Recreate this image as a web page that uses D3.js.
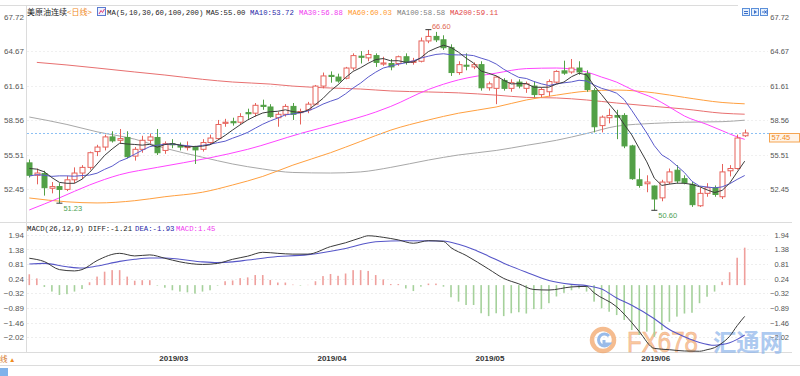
<!DOCTYPE html>
<html>
<head>
<meta charset="utf-8">
<script src="https://cdn.jsdelivr.net/npm/d3@7/dist/d3.min.js"></script>
<style>
  body { margin: 0; background: #fff; }
  svg text { font-family: "Liberation Sans", Arial, sans-serif; }
  .mono { font-family: "Liberation Mono", "DejaVu Sans Mono", monospace; font-size: 7.3px; }
  .cjk { font-family: "Noto Sans CJK SC", sans-serif; }
</style>
</head>
<body>
<div id="container"></div>
<script>
/* CONSTANTS AND GLOBALS */
const width = 800, height = 376;

/* DATA */
// trading days shown (MM/DD, 2019)
const days = ["02/05","02/06","02/07","02/08","02/11","02/12","02/13","02/14","02/15","02/19","02/20","02/21","02/22","02/25","02/26","02/27","02/28",
  "03/01","03/04","03/05","03/06","03/07","03/08","03/11","03/12","03/13","03/14","03/15","03/18","03/19","03/20","03/21","03/22","03/25","03/26","03/27","03/28","03/29",
  "04/01","04/02","04/03","04/04","04/05","04/08","04/09","04/10","04/11","04/12","04/15","04/16","04/17","04/18","04/22","04/23","04/24","04/25","04/26","04/29","04/30",
  "05/01","05/02","05/03","05/06","05/07","05/08","05/09","05/10","05/13","05/14","05/15","05/16","05/17","05/20","05/21","05/22","05/23","05/24","05/28","05/29","05/30","05/31",
  "06/03","06/04","06/05","06/06","06/07","06/10","06/11","06/12","06/13","06/14","06/17","06/18","06/19","06/20","06/21"];

const open = [54.8,53.7,53.85,52.55,52.7,52.45,53.3,53.9,54.4,55.8,56.2,57.1,56.8,57.05,55.4,56.0,56.8,
  57.05,55.9,56.5,56.35,56.15,56.2,56.0,56.6,56.95,58.3,58.45,58.4,59.25,59.2,59.9,59.75,58.8,59.1,59.8,59.25,59.5,
  60.0,61.6,62.55,62.4,62.3,63.2,64.25,64.1,64.3,63.55,63.6,63.6,64.2,63.7,63.8,65.6,66.0,65.7,65.0,62.8,63.45,
  63.3,63.5,61.45,61.4,62.1,61.4,61.95,61.4,61.6,60.85,61.1,61.95,62.95,62.85,63.2,62.7,61.2,58.1,58.8,59.0,59.0,56.3,
  53.3,52.95,52.75,51.7,53.1,54.15,53.4,52.9,51.0,52.1,52.6,51.8,54.1,54.3,57.2];
const high = [55.1,54.3,54.1,53.1,53.0,53.65,54.4,54.6,55.8,56.4,57.3,57.6,57.8,57.6,56.2,57.2,57.4,
  57.8,56.7,56.9,56.6,56.7,56.3,56.9,57.3,58.6,58.7,58.8,59.2,59.6,60.1,60.4,60.0,59.3,60.0,60.1,59.6,60.2,
  61.7,62.8,62.9,62.7,63.3,64.5,64.7,64.8,64.5,64.2,64.0,64.3,64.5,64.1,65.9,66.6,66.4,66.1,65.3,63.8,64.5,
  63.7,63.8,62.0,62.5,62.3,62.2,62.2,62.0,62.0,61.5,62.2,63.0,63.85,64.0,63.8,63.0,61.4,59.0,59.6,59.5,59.2,56.4,
  54.3,53.7,52.8,53.3,54.3,54.6,53.7,53.1,52.6,53.0,52.8,54.7,54.6,57.3,57.75];
const low = [53.5,52.9,51.9,52.1,51.23,52.3,53.0,53.4,54.2,55.4,55.9,56.6,56.5,55.2,55.0,55.7,56.5,
  55.5,55.6,56.1,55.9,55.9,54.7,55.8,56.4,56.9,58.0,58.1,58.2,58.7,58.9,59.5,58.8,58.0,58.9,58.6,58.2,59.2,
  59.9,61.4,61.9,61.9,62.2,63.0,63.6,63.8,63.3,63.4,63.0,63.4,63.5,63.5,63.7,65.4,65.5,64.8,62.5,62.6,63.0,
  63.1,61.2,61.2,60.0,61.2,61.1,61.4,61.0,60.6,60.6,60.7,61.8,62.6,62.7,62.6,61.1,57.5,57.5,58.3,56.9,56.1,53.3,
  52.6,52.2,50.6,51.4,52.9,53.0,52.9,50.9,50.9,51.8,51.8,51.6,53.6,54.2,57.1];
const close = [53.7,53.9,52.6,52.7,52.45,53.3,53.9,54.4,55.7,56.2,57.1,56.75,56.95,55.35,56.0,56.8,57.1,
  55.7,56.5,56.4,56.2,56.25,55.95,56.6,57.0,58.2,58.4,58.35,58.9,59.15,59.9,59.8,58.9,59.1,59.8,59.1,59.35,60.0,
  61.6,62.5,62.45,62.05,63.2,64.3,64.15,64.4,63.7,63.65,63.3,64.2,63.7,63.8,65.6,66.0,65.7,65.0,62.8,63.5,63.4,
  63.5,61.45,61.8,62.4,61.4,61.9,61.6,61.8,60.85,61.3,62.0,62.9,62.75,63.2,62.85,61.3,58.0,58.85,59.0,58.85,56.3,53.4,
  52.8,53.1,51.6,53.1,54.0,53.2,53.05,51.1,52.1,52.6,52.0,54.0,54.3,57.0,57.45];
// closes of the nine sessions before the first candle (for MA5 / MA10)
const priorCloses = [52.62,53.13,53.69,51.99,53.31,54.23,53.79,55.26,54.56];

// long moving averages: [candle index, value]
const ma30Pts = [[0,50.63],[4,51.7],[8,52.84],[12,53.75],[17,54.4],[24,55.25],[29,56.0],[36,57.4],[41,58.3],[46,59.3],[48,59.8],
  [53,61.3],[57,62.15],[62,62.75],[66,63.15],[70,63.2],[74,62.85],[76,62.4],[78,61.95],[80,61.3],[83,60.5],[85,59.75],[87,58.95],[90,58.2],[92,57.65],[94,57.1],[95,56.88]];
const ma60Pts = [[0,51.69],[5,51.35],[9,51.25],[14,51.45],[18,51.8],[23,52.2],[27,52.84],[31,53.6],[35,54.6],[40,55.7],[44,56.7],[48,57.7],
  [53,58.6],[57,59.2],[62,59.75],[66,60.37],[70,60.8],[74,61.15],[78,61.25],[83,61.0],[87,60.6],[92,60.15],[95,60.03]];
const ma100Pts = [[0,58.86],[5,58.2],[9,57.55],[14,56.9],[18,56.1],[23,55.3],[27,54.7],[31,54.26],[35,53.95],[40,53.9],[44,54.0],[48,54.4],
  [53,55.05],[57,55.5],[62,55.9],[66,56.35],[70,56.8],[74,57.4],[78,58.05],[83,58.3],[87,58.4],[92,58.45],[95,58.58]];
const ma200Pts = [[1,63.7],[5,63.47],[9,63.2],[14,62.85],[18,62.58],[23,62.2],[27,61.96],[32,61.78],[35,61.6],[40,61.43],[44,61.34],[48,61.17],
  [53,61.08],[57,61.0],[62,60.8],[66,60.6],[70,60.55],[74,60.37],[78,60.1],[83,59.8],[87,59.57],[92,59.2],[95,59.11]];

// MACD histogram, one bar per candle
const macdBars = [0.42,0.26,-0.07,-0.25,-0.38,-0.35,-0.25,-0.15,0.11,0.33,0.52,0.58,0.58,0.33,0.17,0.19,0.19,
  -0.02,-0.10,-0.20,-0.25,-0.28,-0.33,-0.25,-0.20,-0.02,0.15,0.18,0.27,0.30,0.39,0.39,0.20,0.10,0.10,0.02,-0.02,0.01,
  0.15,0.35,0.43,0.36,0.45,0.58,0.58,0.55,0.39,0.22,0.04,0.04,-0.13,-0.23,-0.06,0.06,0.06,-0.06,-0.47,-0.64,-0.77,
  -0.77,-1.09,-1.2,-1.09,-1.2,-1.09,-1.05,-1.1,-0.93,-0.93,-0.7,-0.44,-0.3,-0.2,-0.13,-0.25,-0.64,-0.9,-1.03,-1.16,-1.35,-1.74,
  -1.93,-1.8,-2.0,-1.74,-1.42,-1.22,-1.1,-1.07,-0.7,-0.45,-0.25,0.13,0.5,1.06,1.45];
const diffPts = [[0,1.04],[2,0.91],[4,0.6],[6,0.55],[7,0.6],[9,0.95],[12,1.23],[14,1.13],[16,1.17],[18,1.04],[20,0.9],[23,0.8],[25,0.84],
  [27,1.0],[29,1.12],[31,1.27],[33,1.23],[35,1.2],[37,1.2],[40,1.49],[42,1.64],[44,1.83],[45,1.91],[47,1.85],[49,1.75],[51,1.62],[53,1.72],
  [55,1.69],[56,1.45],[58,1.15],[61,0.62],[63,0.26],[65,0.05],[67,-0.17],[69,-0.19],[72,-0.07],[74,-0.05],[75,-0.3],[78,-0.84],[80,-1.45],
  [81,-1.8],[83,-2.45],[85,-2.5],[87,-2.55],[89,-2.56],[90,-2.5],[91,-2.42],[92,-2.24],[93,-1.98],[94,-1.57],[95,-1.21]];
const deaPts = [[0,0.82],[2,0.84],[5,0.71],[7,0.66],[9,0.74],[12,0.92],[14,1.0],[16,1.05],[18,1.05],[20,1.0],[23,0.9],[25,0.87],[27,0.9],
  [29,0.97],[32,1.08],[37,1.18],[42,1.42],[46,1.68],[50,1.72],[55,1.71],[57,1.58],[59,1.38],[61,1.12],[63,0.85],[66,0.5],[69,0.18],[72,0.03],
  [74,-0.02],[76,-0.15],[78,-0.5],[80,-0.78],[83,-1.3],[85,-1.72],[87,-2.0],[89,-2.22],[91,-2.33],[92,-2.3],[93,-2.23],[94,-2.1],[95,-1.93]];

const priceTicks = [67.72, 64.67, 61.61, 58.56, 55.51, 52.45];
const macdTicks = [1.94, 1.38, 0.81, 0.24, -0.32, -0.89, -1.46, -2.02];
const lastPrice = 57.45;
const maLegend = [
  {text: "MA5:55.00", x: 206, color: "#222"},
  {text: "MA10:53.72", x: 250, color: "#2a2aa8"},
  {text: "MA30:56.88", x: 299, color: "#f03cf0"},
  {text: "MA60:60.03", x: 348, color: "#ff9a2e"},
  {text: "MA100:58.58", x: 397, color: "#808080"},
  {text: "MA200:59.11", x: 450, color: "#e24848"}
];

/* SCALES */
const x = d3.scaleLinear().domain([0, days.length - 1]).range([29.3, 744.7]);
const y = d3.scaleLinear().domain([52.45, 67.72]).range([189.4, 17]);
const yM = d3.scaleLinear().domain([-2.02, 1.94]).range([337.3, 235]);

const upColor = "#e6625b", downColor = "#52a046";

const svg = d3.select("#container").append("svg")
  .attr("width", width)
  .attr("height", height);

// frame lines
const frame = svg.append("g").attr("stroke", "#dcdcdc").attr("fill", "none");
frame.append("line").attr("x1", 0).attr("x2", 738).attr("y1", 5.5).attr("y2", 5.5);
frame.append("line").attr("x1", 0).attr("x2", 792).attr("y1", 222.5).attr("y2", 222.5);
frame.append("line").attr("x1", 0).attr("x2", 792).attr("y1", 352.5).attr("y2", 352.5);
frame.append("line").attr("x1", 0).attr("x2", 800).attr("y1", 365.5).attr("y2", 365.5);
frame.append("line").attr("x1", 26.5).attr("x2", 26.5).attr("y1", 5).attr("y2", 353);

// faint grid
svg.append("g").selectAll("line").data(priceTicks.slice(1)).join("line")
  .attr("x1", 27).attr("x2", 768).attr("y1", d => Math.round(y(d)) + 0.5).attr("y2", d => Math.round(y(d)) + 0.5)
  .attr("stroke", "#f0f0f0").attr("stroke-dasharray", "2,2");
svg.append("g").selectAll("line").data(macdTicks).join("line")
  .attr("x1", 27).attr("x2", 768).attr("y1", d => Math.round(yM(d)) + 0.5).attr("y2", d => Math.round(yM(d)) + 0.5)
  .attr("stroke", "#eeeeee").attr("stroke-dasharray", "2,2");

/* AXES */
function styleAxis(g, size) {
  g.select(".domain").remove();
  g.attr("font-size", size).attr("font-family", "Liberation Sans, Arial, sans-serif");
  g.selectAll("text").attr("fill", "#555");
}
svg.append("g").attr("transform", "translate(24,0)")
  .call(d3.axisLeft(y).tickValues(priceTicks).tickSize(0).tickPadding(0).tickFormat(d3.format(".2f")))
  .call(g => styleAxis(g, 8));
svg.append("g").attr("transform", "translate(789,0)")
  .call(d3.axisLeft(y).tickValues(priceTicks).tickSize(0).tickPadding(0).tickFormat(d3.format(".2f")))
  .call(g => styleAxis(g, 7.5));
svg.append("g").attr("transform", "translate(24,0)")
  .call(d3.axisLeft(yM).tickValues(macdTicks).tickSize(0).tickPadding(0).tickFormat(d3.format(".2f")))
  .call(g => styleAxis(g, 8));
svg.append("g").attr("transform", "translate(789,0)")
  .call(d3.axisLeft(yM).tickValues(macdTicks).tickSize(0).tickPadding(0).tickFormat(d3.format(".2f")))
  .call(g => styleAxis(g, 7.5));

const monthStarts = days.map((d, i) => i).filter(i => i > 0 && days[i].slice(0, 2) !== days[i - 1].slice(0, 2));
svg.append("g").attr("transform", "translate(0,352)")
  .call(d3.axisBottom(x).tickValues(monthStarts).tickSize(0).tickPadding(3).tickFormat(i => "2019/" + days[i].slice(0, 2)))
  .call(g => {
    g.select(".domain").remove();
    g.attr("font-size", 8).attr("font-weight", "bold").attr("font-family", "Liberation Sans, Arial, sans-serif");
    g.selectAll("text").attr("fill", "#333").attr("text-anchor", "start").attr("dx", 1.5);
  });

/* WATERMARK */
const wm = svg.append("g").attr("opacity", 0.7);
wm.append("circle").attr("cx", 603).attr("cy", 340).attr("r", 11).attr("fill", "none").attr("stroke", "#f2a060").attr("stroke-width", 4.5);
wm.append("path").attr("d", "M609,336 A6,6 0 1 0 609,344 L604,344 L604,340").attr("fill", "none").attr("stroke", "#6f9fe0").attr("stroke-width", 3);
wm.append("text").attr("x", 627).attr("y", 352).attr("font-size", 30).attr("textLength", 71).attr("lengthAdjust", "spacingAndGlyphs")
  .attr("fill", "#f7b27a").attr("stroke", "#ec9050").attr("stroke-width", 0.6).text("FX678");
wm.append("text").attr("class", "cjk").attr("x", 713).attr("y", 351).attr("font-size", 24).attr("font-weight", "bold")
  .attr("textLength", 70).attr("lengthAdjust", "spacingAndGlyphs").attr("fill", "#8db4ea").text("汇通网");

/* MACD PANEL */
svg.append("g").selectAll("rect").data(macdBars).join("rect")
  .attr("x", (d, i) => x(i) - 0.8)
  .attr("width", 1.6)
  .attr("y", d => Math.min(yM(0), yM(d)))
  .attr("height", d => Math.abs(yM(d) - yM(0)))
  .attr("fill", d => d >= 0 ? "#ef9f9c" : "#a5d19b");

const lineM = d3.line().x(d => x(d[0])).y(d => yM(d[1])).curve(d3.curveMonotoneX);
svg.append("path").attr("d", lineM(deaPts)).attr("fill", "none").attr("stroke", "#5656c8").attr("stroke-width", 1.1);
svg.append("path").attr("d", lineM(diffPts)).attr("fill", "none").attr("stroke", "#3a3a3a").attr("stroke-width", 1);

/* PRICE PANEL */
const lineP = d3.line().x(d => x(d[0])).y(d => y(d[1])).curve(d3.curveMonotoneX);
svg.append("path").attr("d", lineP(ma200Pts)).attr("fill", "none").attr("stroke", "#e87070").attr("stroke-width", 1);
svg.append("path").attr("d", lineP(ma100Pts)).attr("fill", "none").attr("stroke", "#a8a8a8").attr("stroke-width", 1);
svg.append("path").attr("d", lineP(ma60Pts)).attr("fill", "none").attr("stroke", "#ffa040").attr("stroke-width", 1);
svg.append("path").attr("d", lineP(ma30Pts)).attr("fill", "none").attr("stroke", "#ff44ff").attr("stroke-width", 1);

// last price line
svg.append("line").attr("x1", 27).attr("x2", 769)
  .attr("y1", Math.round(y(lastPrice)) + 0.5).attr("y2", Math.round(y(lastPrice)) + 0.5)
  .attr("stroke", "#8cc0f4").attr("stroke-dasharray", "2,2");

// candles
const candles = svg.append("g").selectAll("g").data(days).join("g");
candles.append("line")
  .attr("x1", (d, i) => Math.round(x(i)) + 0.5).attr("x2", (d, i) => Math.round(x(i)) + 0.5)
  .attr("y1", (d, i) => y(high[i])).attr("y2", (d, i) => y(low[i]))
  .attr("stroke", (d, i) => close[i] >= open[i] ? upColor : downColor);
candles.append("rect")
  .attr("x", (d, i) => Math.round(x(i)) - 2)
  .attr("width", 5)
  .attr("y", (d, i) => y(Math.max(open[i], close[i])))
  .attr("height", (d, i) => Math.max(1, Math.abs(y(open[i]) - y(close[i]))))
  .attr("fill", (d, i) => close[i] >= open[i] ? "#fff" : downColor)
  .attr("stroke", (d, i) => close[i] >= open[i] ? upColor : downColor);

// short moving averages from closes
const allCloses = priorCloses.concat(close);
const ma = n => close.map((c, i) => [i, d3.mean(allCloses.slice(i + priorCloses.length - n + 1, i + priorCloses.length + 1))]);
const lineS = d3.line().x(d => x(d[0])).y(d => y(d[1]));
svg.append("path").attr("d", lineS(ma(10))).attr("fill", "none").attr("stroke", "#5b5bcc").attr("stroke-width", 1);
svg.append("path").attr("d", lineS(ma(5))).attr("fill", "none").attr("stroke", "#3c3c3c").attr("stroke-width", 1);

// high / low marks
const hiIdx = d3.maxIndex(high), loIdx = d3.minIndex(low);
const loEarly = d3.minIndex(low.slice(0, 20));
svg.append("line").attr("x1", x(hiIdx) - 3).attr("x2", x(hiIdx) + 3).attr("y1", y(high[hiIdx])).attr("y2", y(high[hiIdx])).attr("stroke", "#333");
svg.append("text").attr("x", x(hiIdx) + 3.5).attr("y", y(high[hiIdx]) - 0.5).attr("font-size", 7.5).attr("fill", "#e06a55").text(high[hiIdx].toFixed(2));
[loEarly, loIdx].forEach(i => {
  svg.append("line").attr("x1", x(i) - 3).attr("x2", x(i) + 3).attr("y1", y(low[i])).attr("y2", y(low[i])).attr("stroke", "#333");
  svg.append("text").attr("x", x(i) + 4).attr("y", y(low[i]) + 7.5).attr("font-size", 7.5).attr("fill", "#4f9f55").text(low[i].toFixed(2));
});

// last price tag
svg.append("rect").attr("x", 769.5).attr("y", Math.round(y(lastPrice)) + 0.5).attr("width", 30).attr("height", 8.5)
  .attr("fill", "#fff4e8").attr("stroke", "#f5a552");
svg.append("text").attr("x", 771.5).attr("y", y(lastPrice) + 7.5).attr("font-size", 7.5).attr("fill", "#f08a22").text(lastPrice.toFixed(2));

/* LEGENDS */
svg.append("text").attr("class", "cjk").attr("x", 27).attr("y", 15).attr("font-size", 8).attr("fill", "#222").text("美原油连续");
svg.append("text").attr("class", "cjk").attr("x", 67).attr("y", 15).attr("font-size", 8).attr("fill", "#f08a24").text("<日线>");
svg.append("rect").attr("x", 97.5).attr("y", 7.5).attr("width", 8).attr("height", 8).attr("fill", "#eef2ff").attr("stroke", "#5a7bd0");
svg.append("path").attr("d", "M99,14 L101,10.5 L102.5,12.5 L104.5,9").attr("fill", "none").attr("stroke", "#e0407a");
svg.append("text").attr("class", "mono").attr("x", 107).attr("y", 14.5).attr("fill", "#222").text("MA(5,10,30,60,100,200)");
svg.append("g").selectAll("text").data(maLegend).join("text")
  .attr("class", "mono").attr("x", d => d.x).attr("y", 14.5).attr("fill", d => d.color).text(d => d.text);

svg.append("text").attr("class", "mono").attr("x", 27).attr("y", 231).attr("fill", "#222").text("MACD(26,12,9) DIFF:-1.21");
svg.append("text").attr("class", "mono").attr("x", 135).attr("y", 231).attr("fill", "#2a2aa8").text("DEA:-1.93");
svg.append("text").attr("class", "mono").attr("x", 176).attr("y", 231).attr("fill", "#f03cf0").text("MACD:1.45");

// top-right tool buttons
const btn = svg.append("g");
[742, 751, 760].forEach((bx, k) => {
  btn.append("rect").attr("x", bx + 0.5).attr("y", 8.5).attr("width", 7).attr("height", 7).attr("fill", "#e6f0fc").attr("stroke", "#5b8fd9");
});
btn.append("path").attr("d", "M744,11.5 H748 M744,13.5 H748").attr("stroke", "#3b6fc9");
btn.append("path").attr("d", "M754,10 L757,12 L754,14 Z").attr("fill", "#3b6fc9");
btn.append("path").attr("d", "M762,12 H766 M764.5,10.5 L766,12 L764.5,13.5 M767,10 V14").attr("stroke", "#3b6fc9").attr("fill", "none");

// bottom-left stub
svg.append("text").attr("class", "cjk").attr("x", 0).attr("y", 362).attr("font-size", 7.5).attr("fill", "#d4762a").text("线");
svg.append("text").attr("x", 9).attr("y", 362).attr("font-size", 6.5).attr("fill", "#f08a20").text("▲");
svg.append("rect").attr("x", 0).attr("y", 368).attr("width", 8).attr("height", 8).attr("fill", "#7fb2ea");
</script>
</body>
</html>
